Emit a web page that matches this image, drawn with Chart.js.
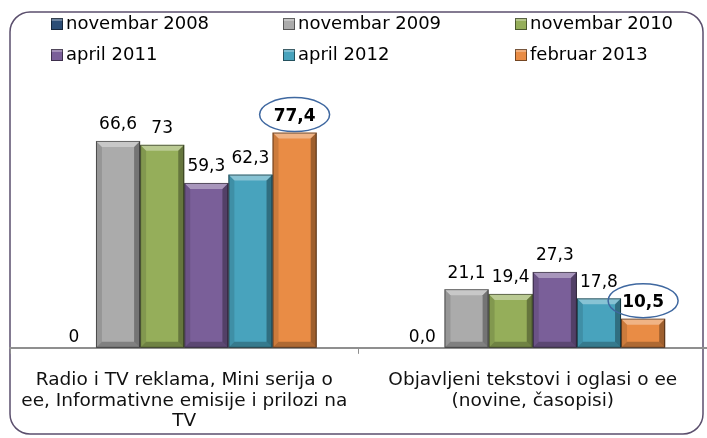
<!DOCTYPE html>
<html>
<head>
<meta charset="utf-8">
<style>
  html, body { margin: 0; padding: 0; background: #fff; }
  #wrap { width: 707px; height: 438px; position: relative; }
</style>
<script src="https://cdn.jsdelivr.net/npm/chart.js@4.4.0/dist/chart.umd.min.js"></script>
</head>
<body>
<div id="wrap"><canvas id="myChart"></canvas></div>
<script>
// kategorije (x os), u vise redova
const categories = [
    ['Radio i TV reklama, Mini serija o', 'ee, Informativne emisije i prilozi na', 'TV'],
    ['Objavljeni tekstovi i oglasi o ee', '(novine, časopisi)']
];

// serije
const seriesNames = ['novembar 2008', 'novembar 2009', 'novembar 2010', 'april 2011', 'april 2012', 'februar 2013'];
const nov2008 = [0, 0];
const nov2009 = [74.4, 21.1]; // stubac u originalu je visi nego sto natpis kaze (66,6)
const nov2010 = [73, 19.4];
const apr2011 = [59.3, 27.3];
const apr2012 = [62.3, 17.8];
const feb2013 = [77.4, 10.5];

// natpisi iznad stubaca, kao na slici
const nov2008Text = ['0', '0,0'];
const nov2009Text = ['66,6', '21,1'];
const nov2010Text = ['73', '19,4'];
const apr2011Text = ['59,3', '27,3'];
const apr2012Text = ['62,3', '17,8'];
const feb2013Text = ['77,4', '10,5'];

const seriesColors = ['#2c4d75', '#ababab', '#95ae5a', '#7a5f99', '#48a3bd', '#e98c45'];

const FONT = 'DejaVu Sans';
Chart.defaults.font.family = FONT;

// okvir oko grafikona
const framePlugin = {
    id: 'frame',
    beforeDraw(chart) {
        const c = chart.ctx;
        c.save();
        c.strokeStyle = '#5b4f6d';
        c.lineWidth = 1.5;
        c.beginPath();
        c.roundRect(10, 12, 693, 422, 20);
        c.stroke();
        c.restore();
    }
};

// 3D izgled stubaca
const bevelPlugin = {
    id: 'bevel',
    afterDatasetsDraw(chart) {
        const c = chart.ctx;
        chart.data.datasets.forEach((ds, i) => {
            const meta = chart.getDatasetMeta(i);
            meta.data.forEach(bar => {
                const p = bar.getProps(['x', 'y', 'base', 'width'], true);
                const h = p.base - p.y;
                if (h < 1) return;
                const l = p.x - p.width / 2, r = p.x + p.width / 2, t = p.y, b = p.base;
                const e = Math.min(6, h / 2);
                c.save();
                // gore svetlije
                c.fillStyle = 'rgba(255,255,255,0.35)';
                c.beginPath();
                c.moveTo(l, t); c.lineTo(r, t); c.lineTo(r - e, t + e); c.lineTo(l + e, t + e);
                c.closePath(); c.fill();
                // desno tamnije
                c.fillStyle = 'rgba(0,0,0,0.32)';
                c.beginPath();
                c.moveTo(r, t); c.lineTo(r, b); c.lineTo(r - e, b - e); c.lineTo(r - e, t + e);
                c.closePath(); c.fill();
                // levo malo tamnije
                c.fillStyle = 'rgba(0,0,0,0.12)';
                c.beginPath();
                c.moveTo(l, t); c.lineTo(l + e, t + e); c.lineTo(l + e, b - e); c.lineTo(l, b);
                c.closePath(); c.fill();
                // dole
                c.fillStyle = 'rgba(0,0,0,0.25)';
                c.beginPath();
                c.moveTo(l, b); c.lineTo(l + e, b - e); c.lineTo(r - e, b - e); c.lineTo(r, b);
                c.closePath(); c.fill();
                c.strokeStyle = 'rgba(0,0,0,0.5)';
                c.lineWidth = 1;
                c.strokeRect(l + 0.5, t + 0.5, p.width - 1, h - 1);
                c.restore();
            });
        });
    }
};

// vrednosti iznad stubaca + elipse za poslednje merenje
const labelPlugin = {
    id: 'valueLabels',
    afterDatasetsDraw(chart) {
        const c = chart.ctx;
        c.save();
        c.textAlign = 'center';
        c.textBaseline = 'middle';
        c.fillStyle = '#000';
        chart.data.datasets.forEach((ds, i) => {
            const meta = chart.getDatasetMeta(i);
            meta.data.forEach((bar, j) => {
                const p = bar.getProps(['x', 'y'], true);
                const val = ds.data[j];
                const y = p.y - (val > 0 ? 16 : 10);
                c.font = (ds.highlight ? 'bold ' : '') + '17px "' + FONT + '"';
                c.fillText(ds.labelText[j], p.x, y);
                if (ds.highlight) {
                    c.strokeStyle = '#3f68a0';
                    c.lineWidth = 1.5;
                    c.beginPath();
                    c.ellipse(p.x, y - 2, 35, 17, 0, 0, Math.PI * 2);
                    c.stroke();
                }
            });
        });
        c.restore();
    }
};

// legenda u tri kolone
const gridLegend = {
    id: 'gridLegend',
    afterDraw(chart) {
        const c = chart.ctx;
        const colX = [51, 283, 515];
        const rowY = [24, 55];
        c.save();
        c.font = '18px "' + FONT + '"';
        c.textBaseline = 'middle';
        c.textAlign = 'left';
        chart.data.datasets.forEach((ds, i) => {
            const x = colX[i % 3], y = rowY[Math.floor(i / 3)];
            c.fillStyle = ds.backgroundColor;
            c.fillRect(x, y - 6, 12, 12);
            c.fillStyle = 'rgba(255,255,255,0.3)';
            c.fillRect(x, y - 6, 12, 3);
            c.strokeStyle = 'rgba(0,0,0,0.5)';
            c.lineWidth = 1;
            c.strokeRect(x + 0.5, y - 5.5, 11, 11);
            c.fillStyle = '#000';
            c.fillText(ds.label, x + 15, y);
        });
        c.restore();
    }
};

const values = [nov2008, nov2009, nov2010, apr2011, apr2012, feb2013];
const texts = [nov2008Text, nov2009Text, nov2010Text, apr2011Text, apr2012Text, feb2013Text];

const config = {
    type: 'bar',
    data: {
        labels: categories,
        datasets: seriesNames.map((name, i) => ({
            label: name,
            data: values[i],
            labelText: texts[i],
            highlight: i === 5,
            backgroundColor: seriesColors[i],
            borderWidth: 0,
            barPercentage: 1,
            categoryPercentage: 0.76
        }))
    },
    options: {
        responsive: true,
        maintainAspectRatio: false,
        animation: false,
        layout: { padding: { top: 92, left: 10, right: 0, bottom: -10 } },
        plugins: {
            legend: { display: false },
            tooltip: { enabled: false }
        },
        scales: {
            x: {
                border: { display: true, color: '#8f8f8f', width: 2 },
                grid: { display: true, drawOnChartArea: false, drawTicks: true, tickLength: 6, offset: true, color: '#8f8f8f' },
                ticks: {
                    color: '#111',
                    padding: 16,
                    maxRotation: 0,
                    autoSkip: false,
                    font: { size: 18.5, lineHeight: 1.12 }
                }
            },
            y: {
                display: false,
                min: 0,
                max: 92
            }
        }
    },
    plugins: [framePlugin, bevelPlugin, labelPlugin, gridLegend]
};

const myChart = new Chart(document.getElementById('myChart'), config);
</script>
</body>
</html>
